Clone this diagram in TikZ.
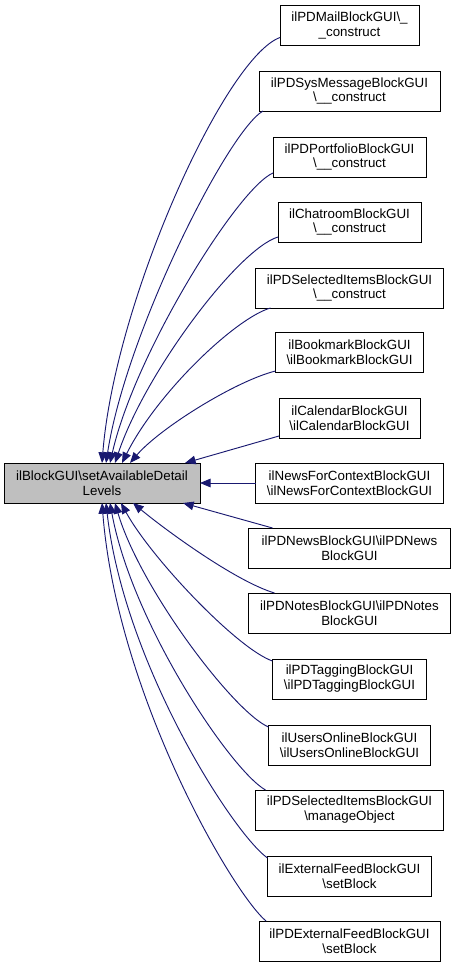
\documentclass[tikz,border=0pt]{standalone}
\usepackage{fontspec}
\setmainfont{Liberation Sans}
\usetikzlibrary{arrows.meta,calc}
\definecolor{edgec}{HTML}{191970}
\definecolor{mainfill}{HTML}{BFBFBF}
\begin{document}
\begin{tikzpicture}[x=0.75pt,y=-0.75pt,
  box/.style={draw=black, line width=0.75pt, fill=white, align=center, inner sep=1pt, outer sep=0pt,
    minimum height=30pt, font=\fontsize{10}{11.2}\selectfont},
  edge/.style={draw=edgec, line width=0.7pt, {Triangle[length=8pt,width=6.5pt]}-}]
\useasboundingbox (0,0) rectangle (456,967);

\node[box, fill=mainfill, minimum width=147pt] (m) at (102,483) {ilBlockGUI\textbackslash setAvailableDetail\\Levels};

\node[box, minimum width=104.25pt] (n1)  at (349.5,25.5)  {ilPDMailBlockGUI\textbackslash\_\\\_construct};
\node[box, minimum width=135.75pt] (n2)  at (349.5,91)    {ilPDSysMessageBlockGUI\\\textbackslash\_\_construct};
\node[box, minimum width=114.75pt] (n3)  at (349.5,157)   {ilPDPortfolioBlockGUI\\\textbackslash\_\_construct};
\node[box, minimum width=107.25pt] (n4)  at (349.5,222)   {ilChatroomBlockGUI\\\textbackslash\_\_construct};
\node[box, minimum width=141pt]    (n5)  at (349.5,288)   {ilPDSelectedItemsBlockGUI\\\textbackslash\_\_construct};
\node[box, minimum width=111pt]    (n6)  at (349.5,352)   {ilBookmarkBlockGUI\\\textbackslash ilBookmarkBlockGUI};
\node[box, minimum width=105.75pt] (n7)  at (349.5,418)   {ilCalendarBlockGUI\\\textbackslash ilCalendarBlockGUI};
\node[box, minimum width=141pt]    (n8)  at (349.5,483)   {ilNewsForContextBlockGUI\\\textbackslash ilNewsForContextBlockGUI};
\node[box, minimum width=151.5pt]  (n9)  at (349.5,548)   {ilPDNewsBlockGUI\textbackslash ilPDNews\\BlockGUI};
\node[box, minimum width=151.5pt]  (n10) at (349.5,613)   {ilPDNotesBlockGUI\textbackslash ilPDNotes\\BlockGUI};
\node[box, minimum width=115.5pt]  (n11) at (349.5,679)   {ilPDTaggingBlockGUI\\\textbackslash ilPDTaggingBlockGUI};
\node[box, minimum width=121.5pt]  (n12) at (349.5,745)   {ilUsersOnlineBlockGUI\\\textbackslash ilUsersOnlineBlockGUI};
\node[box, minimum width=141pt]    (n13) at (349.5,810)   {ilPDSelectedItemsBlockGUI\\\textbackslash manageObject};
\node[box, minimum width=123pt]    (n14) at (349.5,876)   {ilExternalFeedBlockGUI\\\textbackslash setBlock};
\node[box, minimum width=135.75pt] (n15) at (349.5,941)   {ilPDExternalFeedBlockGUI\\\textbackslash setBlock};

% edges into the top of the main node
\draw[edge] ($(m.north west)+(98,0)$)  .. controls +(13,-163) and +(-55,20) .. ($(n1.south west)+(0,-8)$);
\draw[edge] ($(m.north west)+(102,0)$) .. controls +(20,-130) and +(-35,20) .. ($(n2.south west)+(4,0)$);
\draw[edge] ($(m.north west)+(106,0)$) .. controls +(25,-110) and +(-35,15) .. ($(n3.south west)+(0,-4)$);
\draw[edge] ($(m.north west)+(111,0)$) .. controls +(30,-90) and +(-40,12) .. ($(n4.south west)+(0,-5)$);
\draw[edge] ($(m.north west)+(118,0)$) .. controls +(35,-70) and +(-35,10) .. ($(n5.south west)+(15,0)$);
\draw[edge] ($(m.north west)+(126,0)$) .. controls +(30,-35) and +(-40,10) .. ($(n6.south west)+(0,-1)$);
\draw[edge] ($(m.north west)+(181,0)$) -- ($(n7.south west)+(0,-2)$);
% edge to the right side
\draw[edge] (m.east) -- (n8.west);
% edges into the bottom of the main node
\draw[edge] ($(m.south west)+(179,0)$) -- ($(n9.north west)+(24,0)$);
\draw[edge] ($(m.south west)+(129,0)$) .. controls +(30,25) and +(-40,-12) .. ($(n10.north west)+(26,0)$);
\draw[edge] ($(m.south west)+(117,0)$) .. controls +(30,55) and +(-35,-12) .. ($(n11.north west)+(0,2)$);
\draw[edge] ($(m.south west)+(111,0)$) .. controls +(25,85) and +(-35,-15) .. ($(n12.north west)+(0,2)$);
\draw[edge] ($(m.south west)+(106,0)$) .. controls +(22,120) and +(-35,-20) .. ($(n13.north west)+(10,0)$);
\draw[edge] ($(m.south west)+(102,0)$) .. controls +(18,160) and +(-35,-25) .. ($(n14.north west)+(0,2)$);
\draw[edge] ($(m.south west)+(98,0)$)  .. controls +(15,190) and +(-35,-30) .. ($(n15.north west)+(7,0)$);
\end{tikzpicture}
\end{document}
